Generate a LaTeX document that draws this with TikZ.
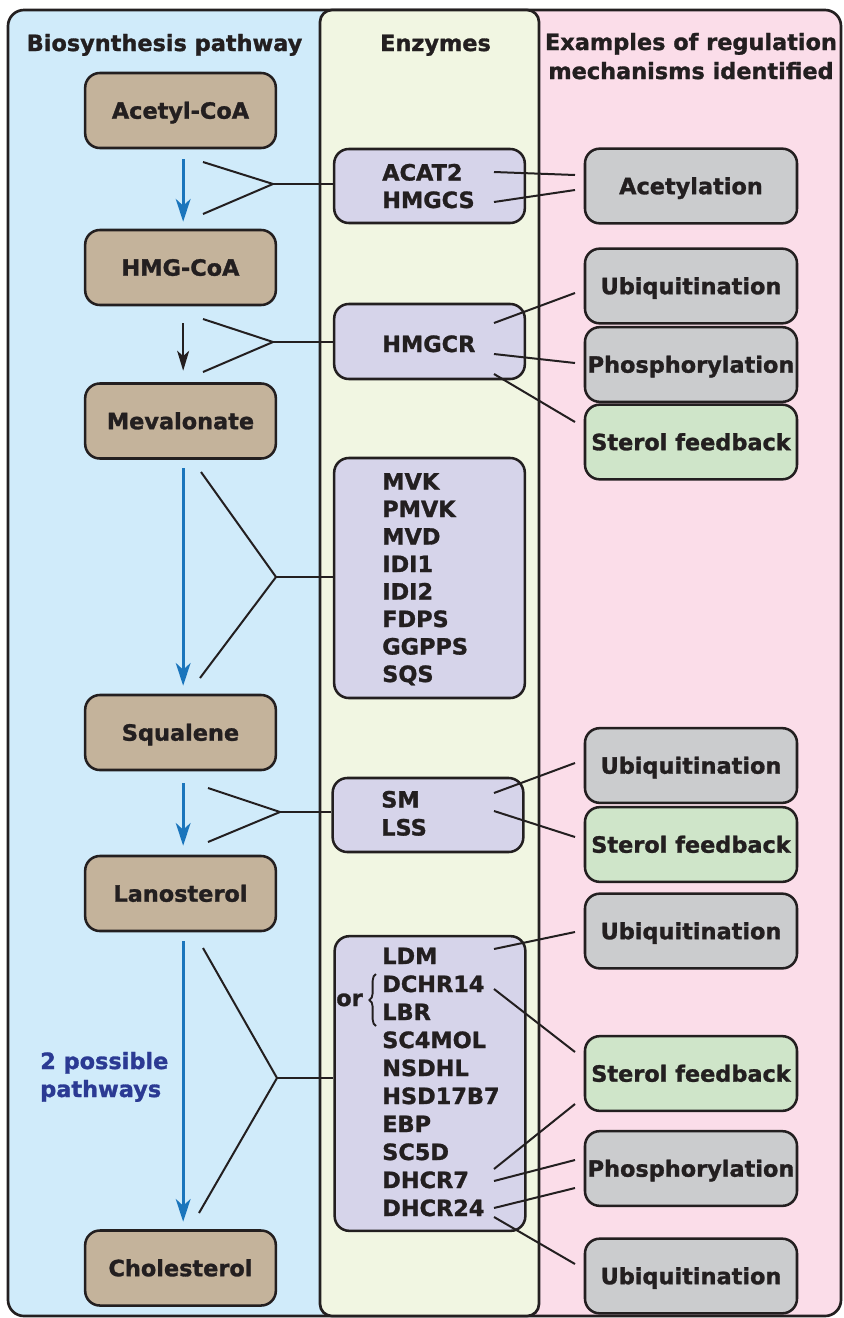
\documentclass[tikz,border=0pt]{standalone}
\usepackage{fontspec}
\setmainfont{DejaVu Sans}[BoldFeatures={FakeBold=1.3}]
\usetikzlibrary{arrows.meta,calc,decorations.pathreplacing}
\definecolor{bluebg}{HTML}{D0EBFA}
\definecolor{greenbg}{HTML}{F1F6E2}
\definecolor{pinkbg}{HTML}{FBDDE9}
\definecolor{tanbox}{HTML}{C4B39B}
\definecolor{lavbox}{HTML}{D6D4EA}
\definecolor{graybox}{HTML}{CBCCCE}
\definecolor{greenbox}{HTML}{CFE5C9}
\definecolor{arrowblue}{HTML}{1A75BC}
\definecolor{textblue}{HTML}{2B3A93}
\definecolor{dark}{HTML}{231F20}
\begin{document}
\begin{tikzpicture}[x=0.75pt,y=-0.75pt,
  font=\fontsize{16.8}{20}\selectfont\bfseries,
  met/.style={draw=dark, fill=tanbox, line width=1.9pt, rounded corners=11pt,
    minimum width=143pt, minimum height=56.25pt, text height=12.3pt, text depth=0pt,
    inner sep=0pt, text=dark},
  reg/.style={draw=dark, fill=graybox, line width=1.9pt, rounded corners=11pt,
    minimum width=159pt, minimum height=56pt, text height=12.3pt, text depth=0pt,
    inner sep=0pt, text=dark},
  regg/.style={reg, fill=greenbox},
  enzbox/.style={draw=dark, fill=lavbox, line width=1.9pt, rounded corners=11pt,
    minimum width=143pt, inner sep=0pt},
  enz/.style={anchor=base west, inner sep=0pt, text=dark},
  hdr/.style={anchor=base, inner sep=0pt, text=dark},
  conn/.style={draw=dark, line width=1.5pt},
  barrow/.style={draw=arrowblue, line width=2.4pt, -{Stealth[length=17pt,width=11pt,inset=5pt]}},
  karrow/.style={draw=dark, line width=1.5pt, -{Stealth[length=15pt,width=9pt,inset=4pt]}}
]
\useasboundingbox (0,0) rectangle (843,1318);
% panels
\fill[pinkbg, rounded corners=12pt] (8,10) rectangle (841,1316);
\begin{scope}
  \clip (0,0) rectangle (400,1318);
  \fill[bluebg, rounded corners=12pt] (8,10) rectangle (841,1316);
\end{scope}
\draw[dark, line width=2pt, rounded corners=12pt] (8,10) rectangle (841,1316);
\draw[dark, fill=greenbg, line width=2pt, rounded corners=9pt] (320,10) rectangle (539,1316);

% headers
\node[hdr] (h1) at (164.5,51) {Biosynthesis pathway};
\node[hdr] (h2) at (435.5,51) {Enzymes};
\node[hdr] (h3) at (691,50) {Examples of regulation};
\node[hdr] (h4) at (691,79) {mechanisms identified};

% metabolites
\node[met] (acetyl) at (180.5,110.5) {Acetyl-CoA};
\node[met] (hmg) at (180.5,267.5) {HMG-CoA};
\node[met] (mev) at (180.5,421) {Mevalonate};
\node[met] (squa) at (180.5,732.5) {Squalene};
\node[met] (lano) at (180.5,893.5) {Lanosterol};
\node[met] (chol) at (180.5,1268) {Cholesterol};

% pathway arrows
\draw[barrow, shorten <=7.5pt, shorten >=5.25pt] ([xshift=2pt]acetyl.south) -- ([xshift=2pt]hmg.north);
\draw[karrow, shorten <=12.75pt, shorten >=8.6pt] ([xshift=2pt]hmg.south) -- ([xshift=2pt]mev.north);
\draw[barrow, shorten <=6.4pt, shorten >=6pt] ([xshift=2pt]mev.south) -- ([xshift=2pt]squa.north);
\draw[barrow, shorten <=9pt, shorten >=6.75pt] ([xshift=2pt]squa.south) -- ([xshift=2pt]lano.north);
\draw[barrow, shorten <=6.75pt, shorten >=5.6pt] ([xshift=2pt]lano.south) -- ([xshift=2pt]chol.north);

\node[anchor=base west, inner sep=0pt, text=textblue] (two1) at (40,1069) {2 possible};
\node[anchor=base west, inner sep=0pt, text=textblue] (two2) at (40,1097) {pathways};

% enzyme boxes
\node[enzbox, minimum height=55.5pt] (eb1) at (429.5,186) {};
\node[enzbox, minimum height=56.25pt] (eb2) at (429.5,341.5) {};
\node[enzbox, minimum height=180pt] (eb3) at (429.5,578) {};
\node[enzbox, minimum height=55.5pt] (eb4) at (428,815) {};
\node[enzbox, minimum height=221pt] (eb5) at (430,1083.5) {};

\node[enz] (acat2) at (382,180.5) {ACAT2};
\node[enz] (hmgcs) at (382,208) {HMGCS};
\node[enz] (hmgcr) at (382,352) {HMGCR};
\foreach \t [count=\i] in {MVK,PMVK,MVD,IDI1,IDI2,FDPS,GGPPS,SQS}
  \node[enz] (mv\i) at (382,{489.5+(\i-1)*27.5}) {\t};
\node[enz] (sm) at (381,807.5) {SM};
\node[enz] (lss) at (381,835.5) {LSS};
\foreach \t [count=\i] in {LDM,DCHR14,LBR,SC4MOL,NSDHL,HSD17B7,EBP,SC5D,DHCR7,DHCR24}
  \node[enz] (ld\i) at (382,{964+(\i-1)*28}) {\t};
\node[enz] (or) at (336,1006) {or};
\draw[dark, line width=1.4pt, decorate, decoration={brace, amplitude=5pt}] (376,1026) -- (376,974);

% forks
\foreach \n/\jx/\jy/\ax/\ay/\bx/\by in {1/273/184/203/162/203/214, 2/273/342/203/319/203/372,
   3/276/577/201/472/200/678, 4/280/812/208/788/208/842, 5/277/1078/203/948/199/1213} {
  \coordinate (j\n) at (\jx,\jy);
  \coordinate (fa\n) at (\ax,\ay);
  \coordinate (fb\n) at (\bx,\by);
  \draw[conn] (fa\n) -- (j\n) -- (fb\n);
  \draw[conn] (j\n) -- (j\n -| eb\n.west);
}

% regulation boxes
\node[reg] (r1) at (691,186) {Acetylation};
\node[reg] (r2) at (691,286) {Ubiquitination};
\node[reg] (r3) at (691,364.5) {Phosphorylation};
\node[regg] (r4) at (691,442) {Sterol feedback};
\node[reg] (r5) at (691,765.5) {Ubiquitination};
\node[regg] (r6) at (691,844.5) {Sterol feedback};
\node[reg] (r7) at (691,931) {Ubiquitination};
\node[regg] (r8) at (691,1073.5) {Sterol feedback};
\node[reg] (r9) at (691,1168.5) {Phosphorylation};
\node[reg] (r10) at (691,1276) {Ubiquitination};

% connectors enzymes -> regulation
\foreach \ax/\ay/\bx/\by [count=\i] in {494/172/575/175, 494/202/575/190,
   494/323/575/293, 494/354/575/363, 494/374/575/422,
   494/793/575/763, 494/811/575/837,
   494/949/575/932, 494/989/575/1052,
   494/1169/575/1104, 494/1181/575/1160,
   494/1208/575/1188, 494/1217/575/1264} {
  \coordinate (cs\i) at (\ax,\ay);
  \coordinate (ct\i) at (\bx,\by);
  \draw[conn] (cs\i) -- (ct\i);
}
\end{tikzpicture}
\end{document}
